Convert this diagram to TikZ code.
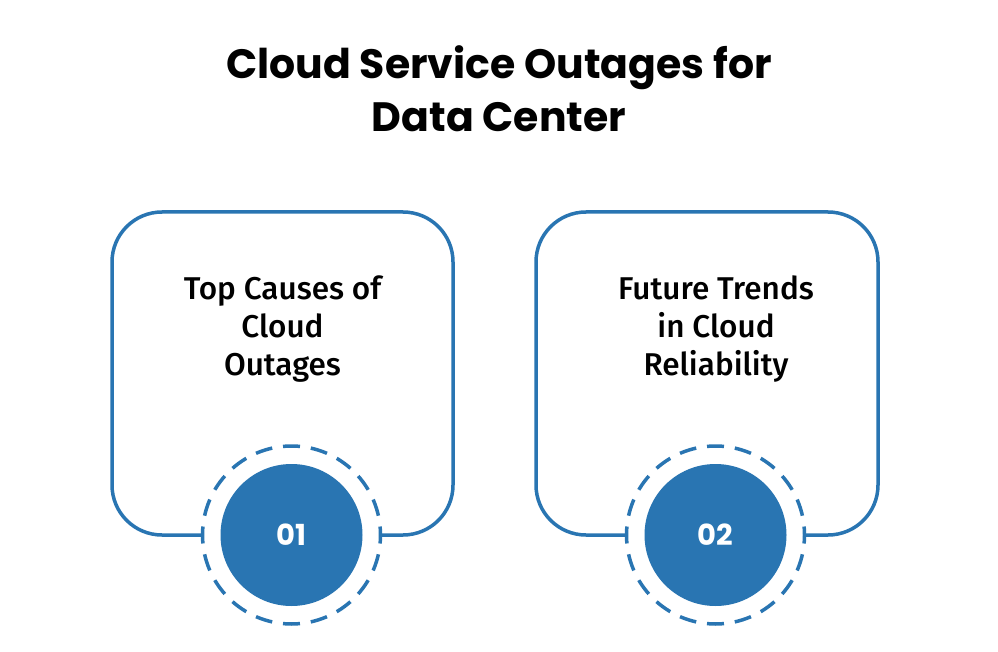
\documentclass[tikz,border=0pt]{standalone}
\usepackage{fontspec}
\setmainfont{Fira Sans}
\newfontfamily\titlefont{Poppins}
\newfontfamily\bodyfont{Fira Sans Medium}
\newfontfamily\numfont{Poppins}
\definecolor{cblue}{RGB}{41,117,178}
\begin{document}
\begin{tikzpicture}[x=1pt,y=-1pt,
  card/.style={draw=cblue,line width=3.5pt,rounded corners=50pt},
  ring/.style={draw=cblue,fill=white,line width=3.5pt,circle,minimum size=178pt,inner sep=0pt,
     dash pattern=on 17pt off 10.96pt,dash phase=8.5pt},
  disc/.style={fill=cblue,circle,minimum size=142pt,inner sep=0pt,text=white,font=\numfont\bfseries\fontsize{29}{29}\selectfont},
  label/.style={align=center,text=black,font=\bodyfont\fontsize{31.5}{38}\selectfont},
  titlestyle/.style={align=center,text=black,font=\titlefont\bfseries\fontsize{41}{53}\selectfont}]
\useasboundingbox[fill=white] (0,0) rectangle (998,652);
\node[titlestyle] (title) at (499,89) {Cloud Service Outages for\\Data Center};
% card 1
\draw[card] (112,212) rectangle (453,535);
\node[ring] (ring1) at (291.5,535) {};
\node[disc] (disc1) at (291.5,535) {01};
\node[label] (lab1) at (282.5,329) {Top Causes of\\Cloud\\Outages};
% card 2
\draw[card] (536,212) rectangle (878,535);
\node[ring] (ring2) at (715.5,535) {};
\node[disc] (disc2) at (715.5,535) {02};
\node[label] (lab2) at (716,329) {Future Trends\\in Cloud\\Reliability};
\end{tikzpicture}
\end{document}
